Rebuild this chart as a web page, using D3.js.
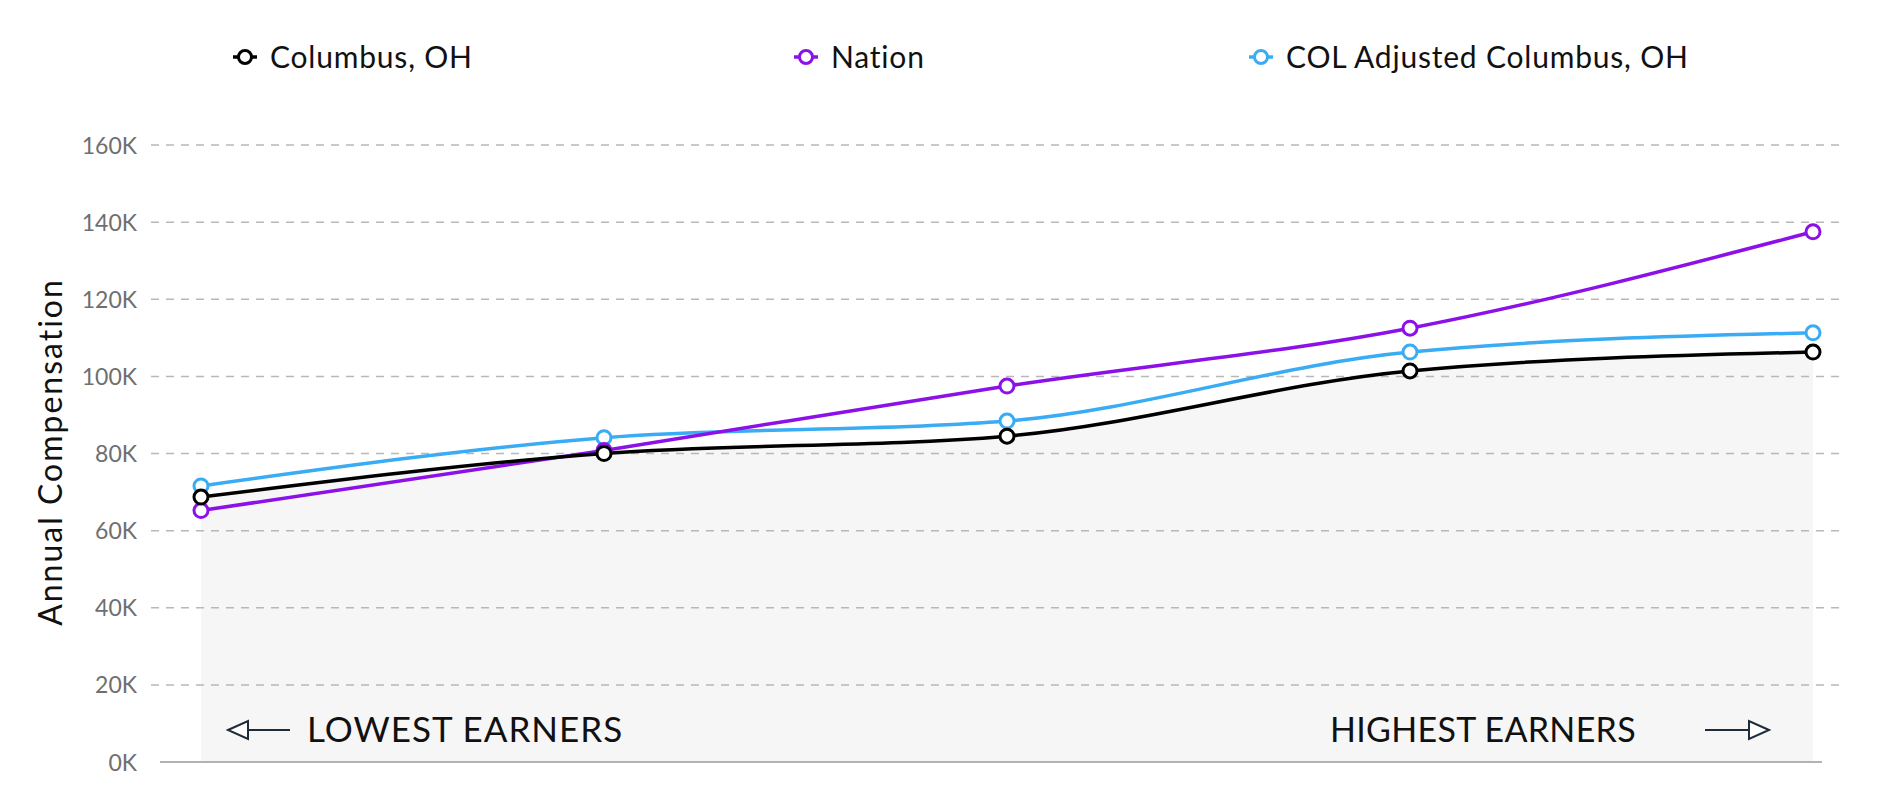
<!DOCTYPE html>
<html>
<head>
<meta charset="utf-8">
<script src="https://cdn.jsdelivr.net/npm/d3@7"></script>
<style>
  body { margin: 0; background: #fff; }
  text { font-family: Lato, "Open Sans", sans-serif; }
</style>
</head>
<body>
<script>
var width = 1882;
var height = 800;

// data
var percentiles = ["10th", "25th", "50th", "75th", "90th"];
var columbus = [68700, 80000, 84500, 101400, 106300];
var nation = [65200, 80800, 97500, 112500, 137500];
var colAdjusted = [71600, 84100, 88400, 106300, 111300];
var yTicks = [0, 20000, 40000, 60000, 80000, 100000, 120000, 140000, 160000];

var seriesNames = ["Columbus, OH", "Nation", "COL Adjusted Columbus, OH"];
var seriesColors = ["#000000", "#8c10e8", "#3aacf4"];

var series = [
    { name: seriesNames[0], color: seriesColors[0], values: columbus },
    { name: seriesNames[1], color: seriesColors[1], values: nation },
    { name: seriesNames[2], color: seriesColors[2], values: colAdjusted }
];

var svg = d3.select("body").append("svg")
    .attr("width", width)
    .attr("height", height);

var x = d3.scalePoint()
    .domain(percentiles)
    .range([201, 1813]);

var y = d3.scaleLinear()
    .domain([0, 160000])
    .range([762, 145]);

// shaded area under the Columbus line
var area = d3.area()
    .x(function(d, i) { return x(percentiles[i]); })
    .y0(y(0))
    .y1(function(d) { return y(d); })
    .curve(d3.curveMonotoneX);

svg.append("path")
    .datum(columbus)
    .attr("d", area)
    .attr("fill", "#f6f6f7");

// grid lines
var grid = svg.append("g");
yTicks.filter(function(t) { return t > 0; }).forEach(function(t) {
    grid.append("line")
        .attr("x1", 151)
        .attr("x2", 1846)
        .attr("y1", y(t))
        .attr("y2", y(t))
        .attr("stroke", "#b8b8b8")
        .attr("stroke-width", 1.5)
        .attr("stroke-dasharray", "8,7");
});

// baseline
svg.append("line")
    .attr("x1", 160)
    .attr("x2", 1822)
    .attr("y1", y(0))
    .attr("y2", y(0))
    .attr("stroke", "#9a9a9a")
    .attr("stroke-width", 1.5);

// y axis labels
var yAxis = d3.axisLeft(y)
    .tickValues(yTicks)
    .tickSize(0)
    .tickPadding(0)
    .tickFormat(function(d) { return (d / 1000) + "K"; });

var yg = svg.append("g")
    .attr("transform", "translate(137,0)")
    .call(yAxis);
yg.select(".domain").remove();
yg.selectAll("text")
    .attr("fill", "#6f6f6f")
    .style("font-size", "23px")
    .attr("dy", "0.35em");

svg.append("text")
    .attr("transform", "translate(62," + 452 + ") rotate(-90)")
    .attr("text-anchor", "middle")
    .attr("fill", "#111")
    .style("font-size", "32px")
    .style("letter-spacing", "2px")
    .text("Annual Compensation");

// lines and markers
var line = d3.line()
    .x(function(d, i) { return x(percentiles[i]); })
    .y(function(d) { return y(d); })
    .curve(d3.curveMonotoneX);

var drawOrder = [series[2], series[1], series[0]];
drawOrder.forEach(function(s) {
    svg.append("path")
        .datum(s.values)
        .attr("d", line)
        .attr("fill", "none")
        .attr("stroke", s.color)
        .attr("stroke-width", 3.5);
});
drawOrder.forEach(function(s) {
    svg.selectAll(null)
        .data(s.values)
        .enter().append("circle")
        .attr("cx", function(d, i) { return x(percentiles[i]); })
        .attr("cy", function(d) { return y(d); })
        .attr("r", 7)
        .attr("fill", "#fff")
        .attr("stroke", s.color)
        .attr("stroke-width", 3);
});

// legend
var legendX = [245, 806, 1261];
series.forEach(function(s, i) {
    var g = svg.append("g").attr("transform", "translate(" + legendX[i] + ",57)");
    g.append("line")
        .attr("x1", -12).attr("x2", 12)
        .attr("stroke", s.color)
        .attr("stroke-width", 3.5);
    g.append("circle")
        .attr("r", 6.5)
        .attr("fill", "#fff")
        .attr("stroke", s.color)
        .attr("stroke-width", 3);
    g.append("text")
        .attr("x", 25)
        .attr("dy", "0.35em")
        .attr("fill", "#111")
        .style("font-size", "30px")
        .style("letter-spacing", "0.8px")
        .text(s.name);
});

// earners annotations
var arrowColor = "#1d2b3a";
function arrow(x1, x2, yy) {
    var dir = x2 > x1 ? 1 : -1;
    svg.append("line")
        .attr("x1", x1).attr("x2", x2 - dir * 20)
        .attr("y1", yy).attr("y2", yy)
        .attr("stroke", arrowColor)
        .attr("stroke-width", 2);
    svg.append("path")
        .attr("d", "M" + x2 + "," + yy + "L" + (x2 - dir * 20) + "," + (yy - 9) +
            "L" + (x2 - dir * 20) + "," + (yy + 9) + "Z")
        .attr("fill", "#fff")
        .attr("stroke", arrowColor)
        .attr("stroke-width", 2);
}
arrow(290, 228, 730);
arrow(1705, 1769, 730);

svg.append("text")
    .attr("x", 307)
    .attr("y", 742)
    .attr("fill", "#111")
    .style("font-size", "35px")
    .style("letter-spacing", "1px")
    .text("LOWEST EARNERS");

svg.append("text")
    .attr("x", 1330)
    .attr("y", 742)
    .attr("fill", "#111")
    .style("font-size", "34px")
    .style("letter-spacing", "0.3px")
    .text("HIGHEST EARNERS");
</script>
</body>
</html>
